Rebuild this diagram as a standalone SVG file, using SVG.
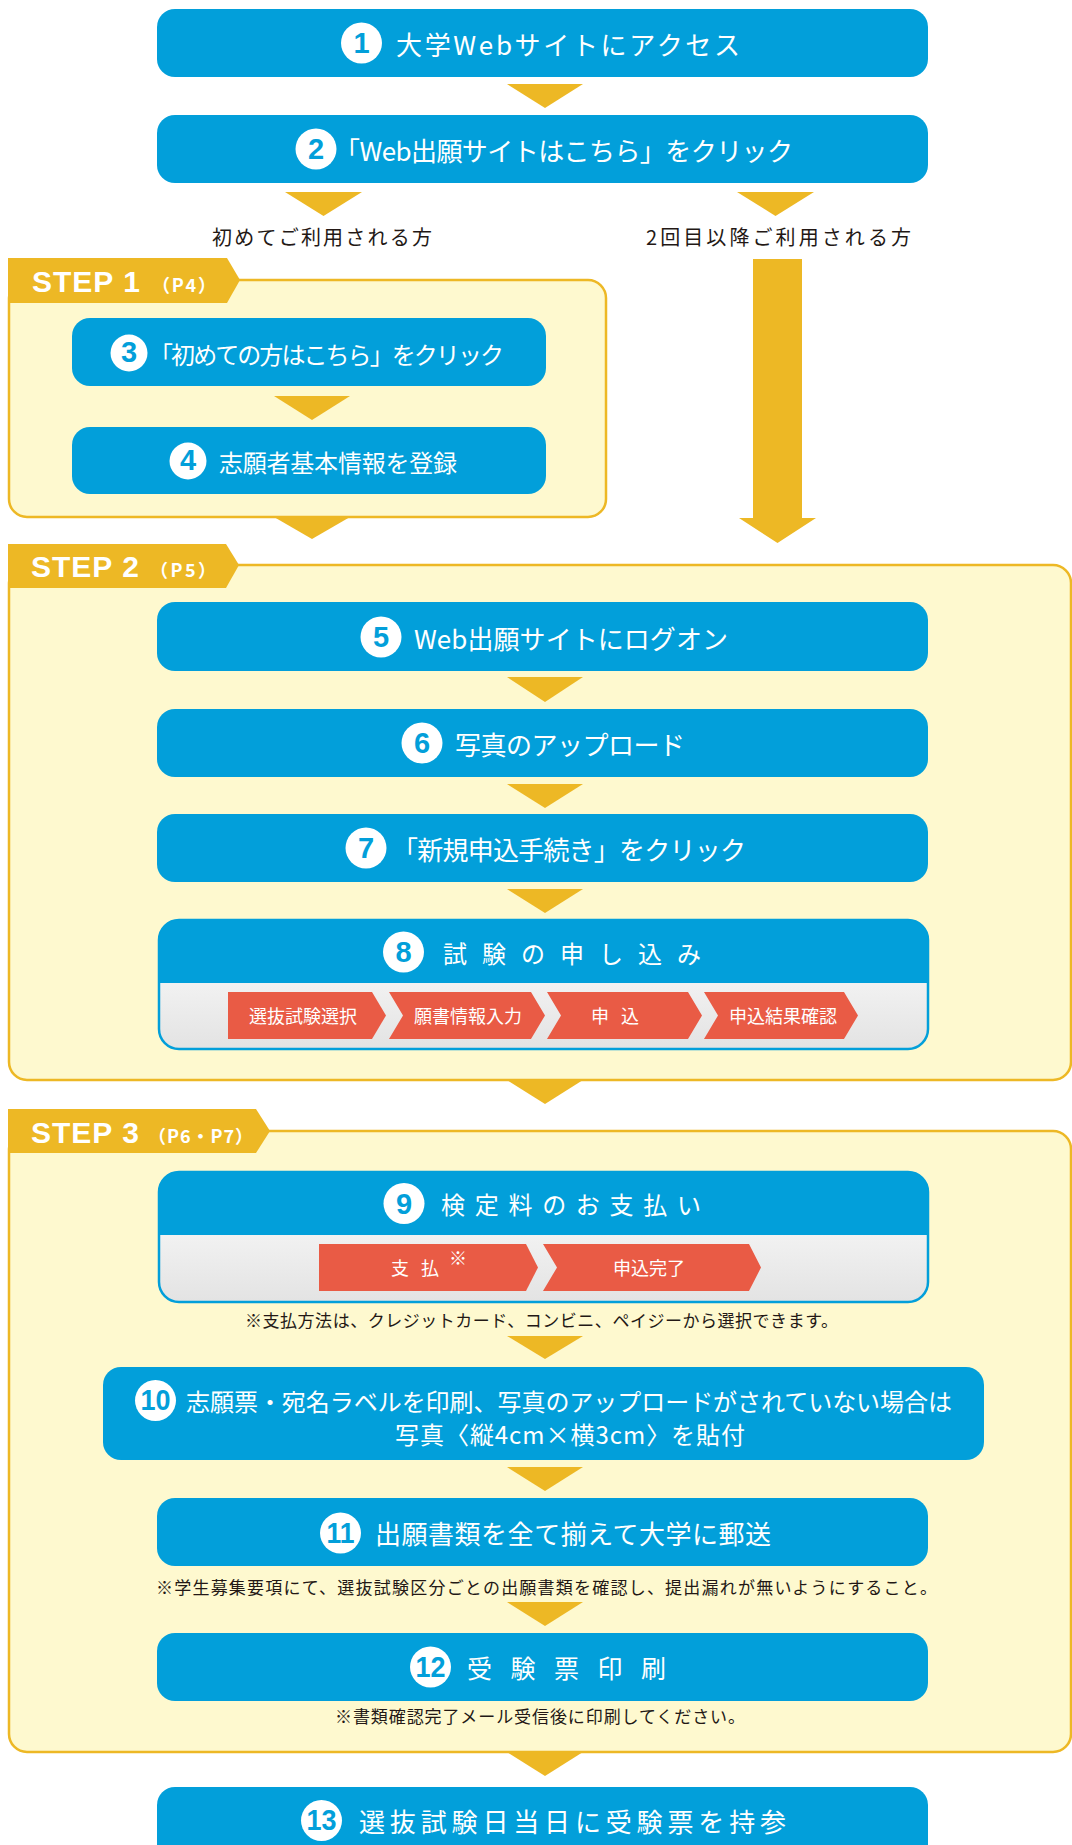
<svg xmlns="http://www.w3.org/2000/svg" width="1072" height="1845" viewBox="0 0 1072 1845">
<defs>
<linearGradient id="gr" x1="0" y1="0" x2="0" y2="1">
<stop offset="0" stop-color="#FFFFFF"/>
<stop offset="1" stop-color="#E3E3E3"/>
</linearGradient>
<style>
.box{fill:#029FDA;}
.panel{fill:#FEF9CF;stroke:#EDB825;stroke-width:2.5;}
.tab{fill:#EDB825;}
.arr{fill:#EDB825;}
.circ{fill:#FFFFFF;}
.num{font-family:"Liberation Sans",Arial,sans-serif;font-weight:bold;fill:#029FDA;text-anchor:middle;font-size:29px;}
.jt{font-family:"Noto Sans CJK JP","Noto Sans",sans-serif;font-weight:400;fill:#FFFFFF;dominant-baseline:central;}
.lbl{font-family:"Noto Sans CJK JP","Noto Sans",sans-serif;font-weight:400;fill:#231815;dominant-baseline:central;font-size:20px;}
.note{font-family:"Noto Sans CJK JP","Noto Sans",sans-serif;font-weight:400;fill:#231815;dominant-baseline:central;font-size:17px;}
.step{font-family:"Liberation Sans",Arial,sans-serif;font-weight:bold;fill:#FFFFFF;font-size:30px;letter-spacing:1px;}
.pg{font-family:"Noto Sans CJK JP",sans-serif;font-weight:bold;fill:#FFFFFF;font-size:18px;}
.chev{fill:#E95B45;}
.ct{font-family:"Noto Sans CJK JP","Noto Sans",sans-serif;font-weight:400;fill:#FFFFFF;dominant-baseline:central;font-size:18px;text-anchor:middle;}
</style>
</defs>

<!-- Panels -->
<g id="step1">
<rect class="panel" x="9" y="280" width="597" height="237" rx="18"/>
<polygon class="tab" points="8,258 227,258 240,280 227,303 8,303"/>
<text class="step" x="32" y="292">STEP 1</text>
<text class="pg" x="152" y="292" textLength="64" lengthAdjust="spacing">（P4）</text>
</g>
<g id="step2">
<rect class="panel" x="9" y="565" width="1062" height="515" rx="18"/>
<polygon class="tab" points="8,544 226,544 239,565 226,588 8,588"/>
<text class="step" x="31" y="577">STEP 2</text>
<text class="pg" x="150" y="577" textLength="66" lengthAdjust="spacing">（P5）</text>
</g>
<g id="step3">
<rect class="panel" x="9" y="1131" width="1062" height="621" rx="18"/>
<polygon class="tab" points="8,1109 256,1109 270,1131 256,1153 8,1153"/>
<text class="step" x="31" y="1143">STEP 3</text>
<text class="pg" x="148" y="1143" textLength="105" lengthAdjust="spacing">（P6・P7）</text>
</g>

<!-- Connectors -->
<g id="connectors">
<polygon class="arr" points="507,84 583,84 545,108"/>
<polygon class="arr" points="285,192 362,192 323.5,216"/>
<polygon class="arr" points="737,192 814,192 775.5,216"/>
<polygon class="arr" points="753,259 802,259 802,518 816,518 777.5,543 739,518 753,518"/>
<polygon class="arr" points="274,396 350,396 312,420"/>
<polygon class="arr" points="274,517 350,517 312,539"/>
<polygon class="arr" points="507,677 583,677 545,702"/>
<polygon class="arr" points="507,784 583,784 545,808"/>
<polygon class="arr" points="507,889 583,889 545,913"/>
<polygon class="arr" points="507,1080 583,1080 545,1104"/>
<polygon class="arr" points="507,1336 583,1336 545,1359"/>
<polygon class="arr" points="507,1467 583,1467 545,1491"/>
<polygon class="arr" points="507,1602 583,1602 545,1626"/>
<polygon class="arr" points="507,1752 583,1752 545,1776"/>
</g>

<!-- Branch labels -->
<text class="lbl" x="212" y="236" textLength="220" lengthAdjust="spacing">初めてご利用される方</text>
<text class="lbl" x="646" y="236" textLength="265" lengthAdjust="spacing">2回目以降ご利用される方</text>

<!-- Nodes -->
<g id="node1">
<rect class="box" x="157" y="9" width="771" height="68" rx="18"/>
<circle class="circ" cx="361.5" cy="43" r="20.5"/>
<text class="num" x="361.5" y="53">1</text>
<text class="jt" x="396" y="43" font-size="26" textLength="344" lengthAdjust="spacing">大学Webサイトにアクセス</text>
</g>
<g id="node2">
<rect class="box" x="157" y="115" width="771" height="68" rx="18"/>
<circle class="circ" cx="316" cy="149" r="20.5"/>
<text class="num" x="316" y="159">2</text>
<text class="jt" x="334" y="149" font-size="26" textLength="459" lengthAdjust="spacing">「Web出願サイトはこちら」をクリック</text>
</g>
<g id="node3">
<rect class="box" x="72" y="318" width="474" height="68" rx="18"/>
<circle class="circ" cx="129" cy="353" r="18.5"/>
<text class="num" x="129" y="362" font-size="26">3</text>
<text class="jt" x="149" y="353" font-size="24" textLength="355" lengthAdjust="spacing">「初めての方はこちら」をクリック</text>
</g>
<g id="node4">
<rect class="box" x="72" y="427" width="474" height="67" rx="18"/>
<circle class="circ" cx="188" cy="461" r="18.5"/>
<text class="num" x="188" y="470" font-size="26">4</text>
<text class="jt" x="219" y="461" font-size="24" textLength="238" lengthAdjust="spacing">志願者基本情報を登録</text>
</g>
<g id="node5">
<rect class="box" x="157" y="602" width="771" height="69" rx="18"/>
<circle class="circ" cx="381" cy="637" r="20.5"/>
<text class="num" x="381" y="647">5</text>
<text class="jt" x="414" y="637" font-size="26" textLength="314" lengthAdjust="spacing">Web出願サイトにログオン</text>
</g>
<g id="node6">
<rect class="box" x="157" y="709" width="771" height="68" rx="18"/>
<circle class="circ" cx="422" cy="743" r="20.5"/>
<text class="num" x="422" y="753">6</text>
<text class="jt" x="455" y="743" font-size="26" textLength="230" lengthAdjust="spacing">写真のアップロード</text>
</g>
<g id="node7">
<rect class="box" x="157" y="814" width="771" height="68" rx="18"/>
<circle class="circ" cx="366" cy="848" r="20.5"/>
<text class="num" x="366" y="858">7</text>
<text class="jt" x="392" y="848" font-size="26" textLength="354" lengthAdjust="spacing">「新規申込手続き」をクリック</text>
</g>
<g id="node8">
<rect x="159" y="920" width="769" height="129" rx="20" fill="url(#gr)" stroke="#029FDA" stroke-width="2.5"/>
<path class="box" d="M159,983 V940 A20,20 0 0 1 179,920 H908 A20,20 0 0 1 928,940 V983 Z"/>
<circle class="circ" cx="403.5" cy="952" r="20.5"/>
<text class="num" x="403.5" y="962">8</text>
<text class="jt" x="443" y="952" font-size="24" textLength="258" lengthAdjust="spacing">試験の申し込み</text>
<polygon class="chev" points="228,992 372,992 386,1015.5 372,1039 228,1039"/>
<polygon class="chev" points="389,992 531,992 545,1015.5 531,1039 389,1039 403,1015.5"/>
<polygon class="chev" points="547,992 688,992 702,1015.5 688,1039 547,1039 561,1015.5"/>
<polygon class="chev" points="704,992 844,992 858,1015.5 844,1039 704,1039 718,1015.5"/>
<text class="ct" x="303" y="1015">選抜試験選択</text>
<text class="ct" x="468" y="1015">願書情報入力</text>
<text class="ct" x="621" y="1015" letter-spacing="12">申込</text>
<text class="ct" x="783" y="1015">申込結果確認</text>
</g>
<g id="node9">
<rect x="159" y="1172" width="769" height="130" rx="20" fill="url(#gr)" stroke="#029FDA" stroke-width="2.5"/>
<path class="box" d="M159,1235 V1192 A20,20 0 0 1 179,1172 H908 A20,20 0 0 1 928,1192 V1235 Z"/>
<circle class="circ" cx="404" cy="1203.5" r="20.5"/>
<text class="num" x="404" y="1213.5">9</text>
<text class="jt" x="441" y="1203.5" font-size="24" textLength="260" lengthAdjust="spacing">検定料のお支払い</text>
<polygon class="chev" points="319,1244 526,1244 538,1267.5 526,1291 319,1291"/>
<polygon class="chev" points="543,1244 749,1244 761,1267.5 749,1291 543,1291 557,1267.5"/>
<text class="ct" x="421" y="1267" letter-spacing="12">支払</text>
<text class="ct" x="458" y="1257" font-size="12">※</text>
<text class="ct" x="649" y="1267">申込完了</text>
</g>
<text class="note" x="245" y="1319" textLength="593" lengthAdjust="spacing">※支払方法は、クレジットカード、コンビニ、ペイジーから選択できます。</text>
<g id="node10">
<rect class="box" x="103" y="1367" width="881" height="93" rx="18"/>
<circle class="circ" cx="155.5" cy="1400.5" r="20.5"/>
<text class="num" x="155.5" y="1410" font-size="26" textLength="30" lengthAdjust="spacingAndGlyphs">10</text>
<text class="jt" x="186" y="1400" font-size="24" textLength="766" lengthAdjust="spacing">志願票・宛名ラベルを印刷、写真のアップロードがされていない場合は</text>
<text class="jt" x="395" y="1433" font-size="24" textLength="350" lengthAdjust="spacing">写真〈縦4cm×横3cm〉を貼付</text>
</g>
<g id="node11">
<rect class="box" x="157" y="1498" width="771" height="68" rx="18"/>
<circle class="circ" cx="340.5" cy="1533" r="20.5"/>
<text class="num" x="340.5" y="1542.5" font-size="26" textLength="28" lengthAdjust="spacingAndGlyphs">11</text>
<text class="jt" x="375" y="1532" font-size="26" textLength="396" lengthAdjust="spacing">出願書類を全て揃えて大学に郵送</text>
</g>
<text class="note" x="156" y="1586" textLength="781" lengthAdjust="spacing">※学生募集要項にて、選抜試験区分ごとの出願書類を確認し、提出漏れが無いようにすること。</text>
<g id="node12">
<rect class="box" x="157" y="1633" width="771" height="68" rx="18"/>
<circle class="circ" cx="430.5" cy="1667" r="20.5"/>
<text class="num" x="430.5" y="1676.5" font-size="26" textLength="30" lengthAdjust="spacingAndGlyphs">12</text>
<text class="jt" x="467" y="1667" font-size="25" textLength="199" lengthAdjust="spacing">受験票印刷</text>
</g>
<text class="note" x="335" y="1715" textLength="410" lengthAdjust="spacing">※書類確認完了メール受信後に印刷してください。</text>
<g id="node13">
<rect class="box" x="157" y="1787" width="771" height="80" rx="18"/>
<circle class="circ" cx="321.5" cy="1820.5" r="20.5"/>
<text class="num" x="321.5" y="1830" font-size="26" textLength="30" lengthAdjust="spacingAndGlyphs">13</text>
<text class="jt" x="359" y="1820" font-size="26" textLength="427" lengthAdjust="spacing">選抜試験日当日に受験票を持参</text>
</g>
</svg>
